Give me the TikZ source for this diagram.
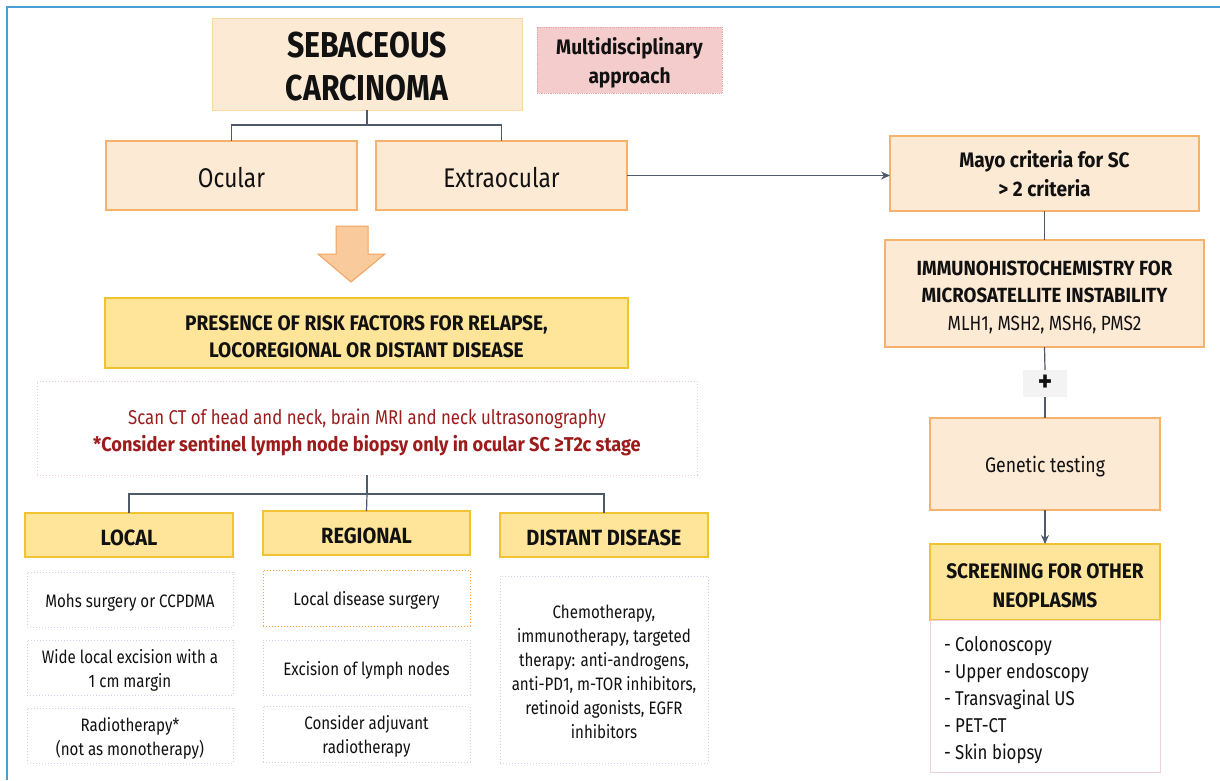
\documentclass[tikz,border=0pt]{standalone}
\usepackage{fontspec}
\setmainfont{Fira Sans}[UprightFeatures={FakeStretch=0.84},BoldFeatures={FakeStretch=0.91}]
\newfontfamily\titlefont{Fira Sans}[UprightFeatures={FakeStretch=0.84},BoldFeatures={FakeStretch=0.84}]
\usetikzlibrary{arrows.meta}
\definecolor{peach}{HTML}{FDEAD5}
\definecolor{orangeb}{HTML}{F6B26B}
\definecolor{titleb}{HTML}{FAD7A8}
\definecolor{yel}{HTML}{FFE599}
\definecolor{yelb}{HTML}{F1C232}
\definecolor{pinkf}{HTML}{F4CCCC}
\definecolor{pinkb}{HTML}{E6A6A6}
\definecolor{slate}{HTML}{4D5A6A}
\definecolor{dred}{HTML}{9C1C1C}
\definecolor{lav}{HTML}{CFCFEA}
\definecolor{orngdot}{HTML}{F6A54A}
\definecolor{listb}{HTML}{F0D0DA}
\definecolor{frameb}{HTML}{4A9ED6}
\definecolor{arrf}{HTML}{F9CB9C}
\definecolor{arrb}{HTML}{F4A261}
\definecolor{plusf}{HTML}{F3F3F3}
\definecolor{txt}{HTML}{111111}
\newcommand{\fs}[2]{\fontsize{#1}{#2}\selectfont}
\newcommand{\tp}{\vrule width 0pt height 1.05em depth 0pt\relax}
\newcommand{\tpx}[1]{\vrule width 0pt height #1em depth 0pt\relax}
\begin{document}
\begin{tikzpicture}[x=1pt,y=-1pt,
  every node/.style={inner sep=0pt,outer sep=0pt,text=txt,align=center},
  base/.style={anchor=north west,rectangle},
  peachbox/.style={base,fill=peach,draw=orangeb,line width=1.2pt},
  yelbox/.style={base,fill=yel,draw=yelb,line width=1.2pt},
  subbox/.style={base,draw=lav,dotted,line width=1pt,font=\fs{18}{24}},
  conn/.style={draw=slate,line width=1.2pt},
  arr/.style={conn,-{Stealth[length=9pt,width=8pt]}}]
\useasboundingbox (0,0) rectangle (1220,780);
\fill[white] (0,0) rectangle (1220,780);
% frame
\draw[frameb,line width=2pt] (7,780) -- (7,7) -- (1220,7);
% title
\node[base,fill=peach,draw=titleb,line width=1pt,minimum width=310pt,minimum height=92pt,
  font=\titlefont\fs{36}{43}\bfseries] (sc) at (212,18) {\tpx{0.87}SEBACEOUS\\CARCINOMA};
\node[base,fill=pinkf,draw=pinkb,densely dotted,line width=0.8pt,minimum width=185pt,minimum height=66pt,
  font=\fs{21}{29}\bfseries] (multi) at (537,27) {\tp Multidisciplinary\\approach};
\node[peachbox,minimum width=251pt,minimum height=69pt,font=\fs{27}{30}] (ocular) at (106,141) {\tpx{0.9}Ocular};
\node[peachbox,minimum width=251pt,minimum height=69pt,font=\fs{27}{30}] (extra) at (376,141) {\tpx{0.9}Extraocular};
\draw[conn] (sc.south) -- ++(0,15) coordinate (j1) -| (ocular.north);
\draw[conn] (j1) -| (extra.north);
% right column
\node[peachbox,minimum width=309pt,minimum height=75pt,font=\fs{21}{29}\bfseries] (mayo) at (890,136)
  {\tpx{0.8}Mayo criteria for SC\\> 2 criteria};
\draw[arr] (extra.east) -- (mayo.west|-extra.east);
\node[peachbox,minimum width=319pt,minimum height=107pt,font=\fs{20.5}{27.5}] (ihc) at (885,240)
  {\tp\textbf{IMMUNOHISTOCHEMISTRY FOR}\\\textbf{MICROSATELLITE INSTABILITY}\\MLH1, MSH2, MSH6, PMS2};
\draw[conn] (mayo.south) -- (ihc.north);
\node[base,fill=plusf,minimum width=44pt,minimum height=27pt,font=\fs{30}{30}\bfseries] (plus) at (1023,370) {+};
\node[peachbox,minimum width=230pt,minimum height=92pt,font=\fs{21}{24}] (gen) at (930,418) {\tp Genetic testing};
\draw[conn] (ihc.south) -- (plus.north);
\draw[conn] (plus.south) -- (gen.north);
\node[yelbox,minimum width=230pt,minimum height=76pt,font=\fs{21}{29}\bfseries] (scr) at (930,544)
  {\tp SCREENING FOR OTHER\\NEOPLASMS};
\draw[arr] (gen.south) -- (scr.north);
\node[base,draw=listb,line width=1pt,fill=white,minimum width=230pt,minimum height=152pt] (list) at (930,620) {};
\node[anchor=north west,align=left,font=\fs{20}{27}] (listtxt) at (944,630)
  {\tp - Colonoscopy\\- Upper endoscopy\\- Transvaginal US\\- PET-CT\\- Skin biopsy};
% big arrow
\draw[fill=arrf,draw=arrb,line width=1pt] (336,226) -- (368,226) -- (368,254) -- (385,254) -- (351,282) -- (318,254) -- (336,254) -- cycle;
% presence
\node[yelbox,minimum width=523pt,minimum height=70pt,font=\fs{21}{27}\bfseries] (pres) at (105,298)
  {\tp PRESENCE OF RISK FACTORS FOR RELAPSE,\\LOCOREGIONAL OR DISTANT DISEASE};
\node[base,draw=pinkb!60,dotted,line width=1pt,minimum width=660pt,minimum height=94pt,
  font=\fs{20}{27},text=dred] (scan) at (37,381)
  {\tpx{1.25}Scan CT of head and neck, brain MRI and neck ultrasonography\\\textbf{*Consider sentinel lymph node biopsy only in ocular SC ≥T2c stage}};
\node[yelbox,minimum width=208pt,minimum height=44pt,font=\fs{22}{24}\bfseries] (local) at (25,513) {\tpx{0.95}LOCAL};
\node[yelbox,minimum width=207pt,minimum height=44pt,font=\fs{22}{24}\bfseries] (regional) at (263,511) {\tpx{0.95}REGIONAL};
\node[yelbox,minimum width=208pt,minimum height=44pt,font=\fs{22}{24}\bfseries] (distant) at (500,513) {\tpx{0.95}DISTANT DISEASE};
\draw[conn] (scan.south) -- ++(0,19) coordinate (j2) -| (local.north);
\draw[conn] (j2) -| (distant.north);
\draw[conn] (j2) -- (regional.north);
% local sub
\node[subbox,minimum width=206pt,minimum height=55pt] (l1) at (27,572) {\tp Mohs surgery or CCPDMA};
\node[subbox,minimum width=206pt,minimum height=55pt] (l2) at (27,640) {\tp Wide local excision with a\\1 cm margin};
\node[subbox,minimum width=206pt,minimum height=55pt] (l3) at (27,708) {\tp Radiotherapy*\\(not as monotherapy)};
% regional sub
\node[subbox,draw=orngdot,minimum width=207pt,minimum height=56pt] (r1) at (263,570) {\tp Local disease surgery};
\node[subbox,minimum width=207pt,minimum height=55pt] (r2) at (263,640) {\tp Excision of lymph nodes};
\node[subbox,minimum width=207pt,minimum height=56pt] (r3) at (263,706) {\tp Consider adjuvant\\radiotherapy};
% distant sub
\node[subbox,minimum width=208pt,minimum height=187pt] (d1) at (500,576)
  {\tp Chemotherapy,\\immunotherapy, targeted\\therapy: anti-androgens,\\anti-PD1, m-TOR inhibitors,\\retinoid agonists, EGFR\\inhibitors};
\end{tikzpicture}
\end{document}
